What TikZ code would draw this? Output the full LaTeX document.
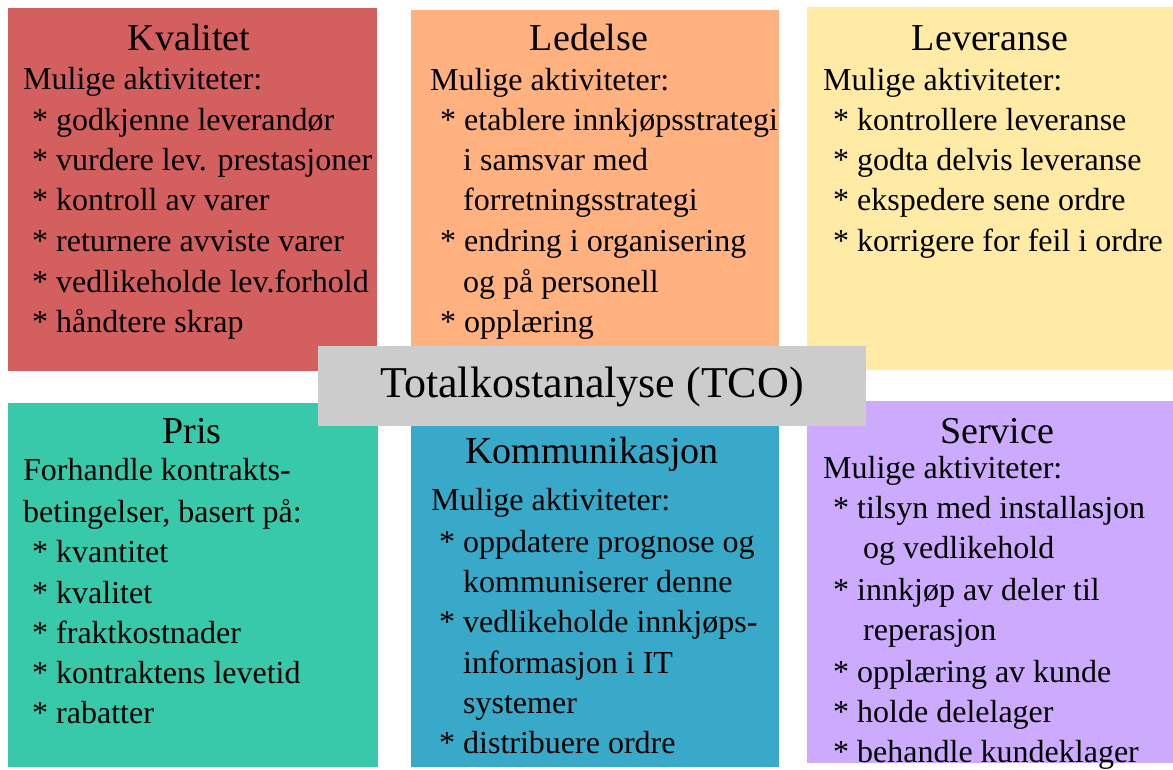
\documentclass[tikz,border=0pt]{standalone}
\usepackage{fontspec}
\setmainfont{Liberation Serif}
\definecolor{cRed}{RGB}{212,95,95}
\definecolor{cOrange}{RGB}{255,178,127}
\definecolor{cYellow}{RGB}{255,234,166}
\definecolor{cTeal}{RGB}{56,201,170}
\definecolor{cBlue}{RGB}{56,169,200}
\definecolor{cPurple}{RGB}{204,170,253}
\definecolor{cGray}{RGB}{204,204,204}
\begin{document}
\begin{tikzpicture}[x=1pt,y=-1pt,
  panel/.style={draw=none,inner sep=0pt,outer sep=0pt,anchor=north west},
  ttl/.style={inner sep=0pt,anchor=base,font=\fontsize{38}{40}\selectfont},
  txt/.style={inner sep=0pt,anchor=base west,font=\fontsize{32}{36}\selectfont},
  center/.style={inner sep=0pt,anchor=base,font=\fontsize{44}{48}\selectfont}]
\useasboundingbox (0,0) rectangle (1173,769);
% panels
\node[panel,fill=cRed,minimum width=369pt,minimum height=363pt] (kvalbox) at (8,8) {};
\node[panel,fill=cOrange,minimum width=368pt,minimum height=350pt] (ledbox) at (411,10) {};
\node[panel,fill=cYellow,minimum width=366pt,minimum height=363pt] (levbox) at (807,7) {};
\node[panel,fill=cTeal,minimum width=370pt,minimum height=364pt] (prisbox) at (8,403) {};
\node[panel,fill=cBlue,minimum width=368pt,minimum height=352pt] (kombox) at (411,415) {};
\node[panel,fill=cPurple,minimum width=366pt,minimum height=362pt] (servbox) at (807,401) {};
\node[panel,fill=cGray,minimum width=548pt,minimum height=80pt] (tcobox) at (318,346) {};
\node[center] (tco) at (592,397) {Totalkostanalyse (TCO)};
% Kvalitet
\node[ttl] (kt) at (189,50) {Kvalitet};
\node[txt] (k0) at (23,89) {Mulige aktiviteter:};
\node[txt] (k1) at (32,130) {* godkjenne leverandør};
\node[txt] (k2) at (32,170) {* vurdere lev. prestasjoner};
\node[txt] (k3) at (32,210) {* kontroll av varer};
\node[txt] (k4) at (32,251) {* returnere avviste varer};
\node[txt] (k5) at (32,292) {* vedlikeholde lev.forhold};
\node[txt] (k6) at (32,332) {* håndtere skrap};
% Ledelse
\node[ttl] (lt) at (589,50) {Ledelse};
\node[txt] (l0) at (430,90) {Mulige aktiviteter:};
\node[txt] (l1) at (440,130) {* etablere innkjøpsstrategi};
\node[txt] (l2) at (463,170) {i samsvar med};
\node[txt] (l3) at (463,210) {forretningsstrategi};
\node[txt] (l4) at (440,251) {* endring i organisering};
\node[txt] (l5) at (463,292) {og på personell};
\node[txt] (l6) at (440,332) {* opplæring};
% Leveranse
\node[ttl] (vt) at (990,50) {Leveranse};
\node[txt] (v0) at (823,90) {Mulige aktiviteter:};
\node[txt] (v1) at (833,130) {* kontrollere leveranse};
\node[txt] (v2) at (833,170) {* godta delvis leveranse};
\node[txt] (v3) at (833,210) {* ekspedere sene ordre};
\node[txt] (v4) at (833,251) {* korrigere for feil i ordre};
% Pris
\node[ttl] (pt) at (192,443) {Pris};
\node[txt] (p0) at (23,480) {Forhandle kontrakts-};
\node[txt] (p1) at (23,522) {betingelser, basert på:};
\node[txt] (p2) at (32,562) {* kvantitet};
\node[txt] (p3) at (32,603) {* kvalitet};
\node[txt] (p4) at (32,643) {* fraktkostnader};
\node[txt] (p5) at (32,683) {* kontraktens levetid};
\node[txt] (p6) at (32,723) {* rabatter};
% Kommunikasjon
\node[ttl] (mt) at (592,463) {Kommunikasjon};
\node[txt] (m0) at (431,510) {Mulige aktiviteter:};
\node[txt] (m1) at (439,552) {* oppdatere prognose og};
\node[txt] (m2) at (463,592) {kommuniserer denne};
\node[txt] (m3) at (439,632) {* vedlikeholde innkjøps-};
\node[txt] (m4) at (463,673) {informasjon i IT};
\node[txt] (m5) at (463,713) {systemer};
\node[txt] (m6) at (439,753) {* distribuere ordre};
% Service
\node[ttl] (st) at (997,443) {Service};
\node[txt] (s0) at (823,478) {Mulige aktiviteter:};
\node[txt] (s1) at (833,518) {* tilsyn med installasjon};
\node[txt] (s2) at (863,558) {og vedlikehold};
\node[txt] (s3) at (833,600) {* innkjøp av deler til};
\node[txt] (s4) at (863,640) {reperasjon};
\node[txt] (s5) at (833,682) {* opplæring av kunde};
\node[txt] (s6) at (833,722) {* holde delelager};
\node[txt] (s7) at (833,762) {* behandle kundeklager};
\end{tikzpicture}
\end{document}
